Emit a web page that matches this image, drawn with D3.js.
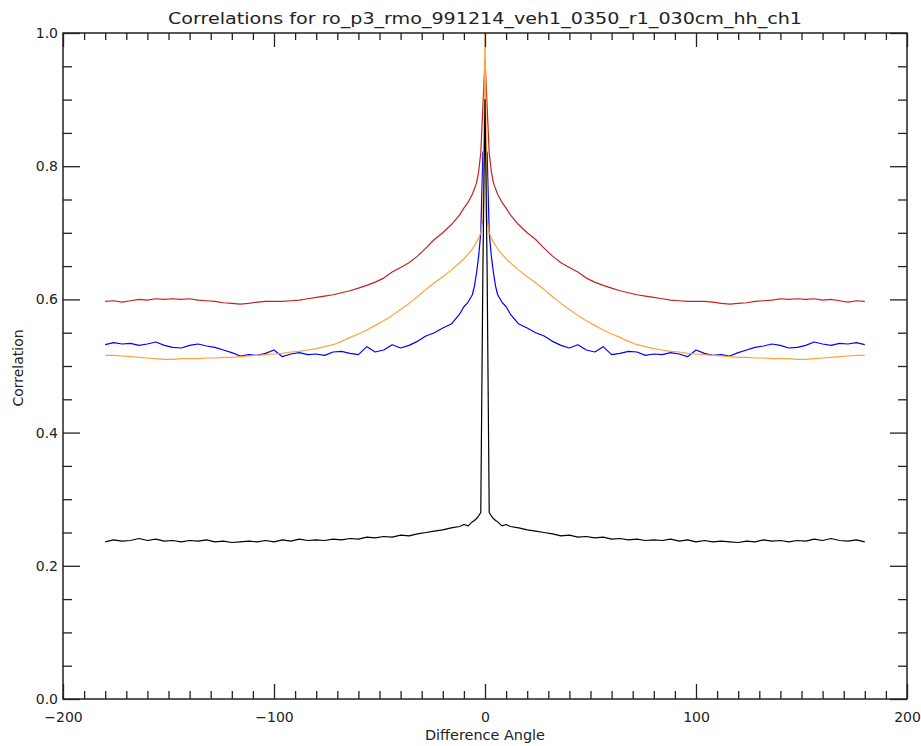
<!DOCTYPE html>
<html>
<head>
    <meta charset="UTF-8">
    <title>Correlations</title>
    <script src="https://cdn.jsdelivr.net/npm/d3@7"></script>
    <style type="text/css">
        body { margin: 0; background: #fff; }
        svg { display: block; }
        .frame { fill: none; stroke: #222; stroke-width: 1.5px; }
        .axis path { display: none; }
        .axis line { stroke: #222; stroke-width: 1.3px; }
        .axis text { font-family: "DejaVu Sans", sans-serif; font-size: 14px; fill: #222; }
        .label { font-family: "DejaVu Sans", sans-serif; fill: #222; }
        .line { fill: none; stroke-width: 1.2px; stroke-linejoin: round; }
    </style>
</head>
<body>
<script type="text/javascript">
    var width = 921,
        height = 746;

    // difference angles (degrees)
    var angles = [
        -180,-176,-172,-168,-164,-160,-156,-152,-148,-144,-140,-136,-132,-128,-124,-120,-116,-112,-108,-104,-100,
        -96,-92,-88,-84,-80,-76,-72,-68,-64,-60,-56,-52,-48,-44,-40,-36,-32,-28,-24,-20,-16,-12,
        -10,-8,-6,-5,-4,-3,-2,-1,0,1,2,3,4,5,6,8,10,
        12,16,20,24,28,32,36,40,44,48,52,56,60,64,68,72,76,80,84,88,92,96,
        100,104,108,112,116,120,124,128,132,136,140,144,148,152,156,160,164,168,172,176,180
    ];

    var redVals = [
        0.597,0.598,0.596,0.598,0.600,0.599,0.601,0.600,0.601,0.600,0.601,0.599,0.598,0.597,0.595,0.594,0.593,0.594,0.596,0.597,0.597,
        0.597,0.598,0.599,0.601,0.603,0.605,0.607,0.610,0.613,0.617,0.621,0.626,0.632,0.641,0.648,0.655,0.665,0.677,0.690,0.700,0.712,0.727,
        0.737,0.746,0.758,0.766,0.775,0.792,0.82,0.89,0.96,0.89,0.82,0.792,0.775,0.766,0.758,0.746,0.737,
        0.727,0.712,0.700,0.690,0.677,0.665,0.655,0.648,0.641,0.632,0.626,0.621,0.617,0.613,0.610,0.607,0.605,0.603,0.601,0.599,0.598,0.597,
        0.597,0.597,0.596,0.594,0.593,0.594,0.595,0.597,0.598,0.599,0.601,0.600,0.601,0.600,0.601,0.599,0.600,0.598,0.596,0.598,0.597
    ];

    var orangeVals = [
        0.516,0.516,0.515,0.514,0.513,0.512,0.511,0.510,0.510,0.511,0.511,0.511,0.512,0.512,0.513,0.513,0.514,0.515,0.516,0.517,0.518,
        0.519,0.521,0.522,0.524,0.526,0.529,0.532,0.537,0.543,0.548,0.554,0.561,0.568,0.576,0.585,0.594,0.604,0.615,0.625,0.634,0.644,0.655,
        0.661,0.668,0.676,0.681,0.686,0.692,0.70,0.72,1.0,0.72,0.70,0.692,0.686,0.681,0.676,0.668,0.661,
        0.655,0.644,0.634,0.625,0.615,0.604,0.594,0.585,0.576,0.568,0.561,0.554,0.548,0.543,0.537,0.532,0.529,0.526,0.524,0.522,0.521,0.519,
        0.518,0.517,0.516,0.515,0.514,0.513,0.513,0.512,0.512,0.511,0.511,0.511,0.510,0.510,0.511,0.512,0.513,0.514,0.515,0.516,0.516
    ];

    var blueVals = [
        0.532,0.535,0.533,0.534,0.531,0.533,0.536,0.531,0.528,0.527,0.531,0.533,0.530,0.528,0.524,0.520,0.515,0.517,0.516,0.519,0.524,
        0.514,0.518,0.520,0.517,0.518,0.516,0.521,0.522,0.519,0.517,0.529,0.521,0.524,0.532,0.527,0.531,0.537,0.545,0.550,0.557,0.563,0.578,
        0.589,0.596,0.607,0.620,0.640,0.665,0.70,0.82,0.83,0.82,0.70,0.665,0.640,0.620,0.607,0.596,0.589,
        0.578,0.563,0.557,0.550,0.545,0.537,0.531,0.527,0.532,0.524,0.521,0.529,0.517,0.519,0.522,0.521,0.516,0.518,0.517,0.520,0.518,0.514,
        0.524,0.519,0.516,0.517,0.515,0.520,0.524,0.528,0.530,0.533,0.531,0.527,0.528,0.531,0.536,0.533,0.531,0.534,0.533,0.535,0.532
    ];

    var blackVals = [
        0.236,0.239,0.237,0.238,0.241,0.238,0.240,0.237,0.238,0.236,0.238,0.237,0.239,0.236,0.237,0.235,0.236,0.237,0.236,0.238,0.236,
        0.239,0.237,0.240,0.238,0.239,0.238,0.240,0.239,0.241,0.240,0.243,0.242,0.244,0.243,0.246,0.245,0.248,0.250,0.252,0.254,0.257,0.259,
        0.262,0.260,0.266,0.268,0.271,0.275,0.28,0.645,0.90,0.645,0.28,0.275,0.271,0.268,0.266,0.260,0.262,
        0.259,0.257,0.254,0.252,0.250,0.248,0.245,0.246,0.243,0.244,0.242,0.243,0.240,0.241,0.239,0.240,0.238,0.239,0.238,0.240,0.237,0.239,
        0.236,0.238,0.236,0.237,0.236,0.235,0.237,0.236,0.239,0.237,0.238,0.236,0.238,0.237,0.240,0.238,0.241,0.238,0.237,0.239,0.236
    ];

    var seriesColors = ["#c8201e", "#0000ff", "#ffa23c", "#000000"];

    var xMajor = [-200, -100, 0, 100, 200],
        yMajor = [0, 0.2, 0.4, 0.6, 0.8, 1.0];

    var title = "Correlations for ro_p3_rmo_991214_veh1_0350_r1_030cm_hh_ch1",
        xTitle = "Difference Angle",
        yTitle = "Correlation";

    var plotLeft = 63, plotRight = 907, plotTop = 33, plotBottom = 699;

    var x = d3.scaleLinear().domain([-200, 200]).range([plotLeft, plotRight]),
        y = d3.scaleLinear().domain([0, 1]).range([plotBottom, plotTop]);

    var svg = d3.select("body").append("svg")
        .attr("width", width)
        .attr("height", height);

    svg.append("rect")
        .attr("width", width)
        .attr("height", height)
        .attr("fill", "#fff");

    renderLines();
    renderAxes();
    renderLabels();

    function renderLines(){
        var all = [redVals, blueVals, orangeVals, blackVals];
        var line = d3.line()
            .x(function(d){ return x(d[0]); })
            .y(function(d){ return y(d[1]); });

        svg.append("g").selectAll("path.line")
            .data(all)
          .enter().append("path")
            .attr("class", "line")
            .attr("stroke", function(d, i){ return seriesColors[i]; })
            .attr("d", function(vals){
                return line(angles.map(function(a, i){ return [a, vals[i]]; }));
            });
    }

    function renderAxes(){
        var xMinor = d3.range(-200, 201, 10).filter(function(v){ return v % 100 !== 0; }),
            yMinor = d3.range(0, 1.001, 0.05).filter(function(v){ return Math.round(v * 100) % 20 !== 0; });

        // bottom
        svg.append("g").attr("class", "axis")
            .attr("transform", "translate(0," + plotBottom + ")")
            .call(d3.axisBottom(x).tickValues(xMinor).tickSize(-8).tickFormat(""));
        svg.append("g").attr("class", "axis")
            .attr("transform", "translate(0," + plotBottom + ")")
            .call(d3.axisBottom(x).tickValues(xMajor).tickSize(-15).tickPadding(13)
                .tickFormat(function(d){ return d < 0 ? "\u2212" + Math.abs(d) : d; }));

        // top
        svg.append("g").attr("class", "axis")
            .attr("transform", "translate(0," + plotTop + ")")
            .call(d3.axisTop(x).tickValues(xMinor).tickSize(-7).tickFormat(""));
        svg.append("g").attr("class", "axis")
            .attr("transform", "translate(0," + plotTop + ")")
            .call(d3.axisTop(x).tickValues(xMajor).tickSize(-14).tickFormat(""));

        // left
        svg.append("g").attr("class", "axis")
            .attr("transform", "translate(" + plotLeft + ",0)")
            .call(d3.axisLeft(y).tickValues(yMinor).tickSize(-9).tickFormat(""));
        svg.append("g").attr("class", "axis")
            .attr("transform", "translate(" + plotLeft + ",0)")
            .call(d3.axisLeft(y).tickValues(yMajor).tickSize(-17).tickPadding(5).tickFormat(d3.format(".1f")));

        // right
        svg.append("g").attr("class", "axis")
            .attr("transform", "translate(" + plotRight + ",0)")
            .call(d3.axisRight(y).tickValues(yMinor).tickSize(-9).tickFormat(""));
        svg.append("g").attr("class", "axis")
            .attr("transform", "translate(" + plotRight + ",0)")
            .call(d3.axisRight(y).tickValues(yMajor).tickSize(-17).tickFormat(""));

        svg.append("rect")
            .attr("class", "frame")
            .attr("x", plotLeft)
            .attr("y", plotTop)
            .attr("width", plotRight - plotLeft)
            .attr("height", plotBottom - plotTop);
    }

    function renderLabels(){
        svg.append("text")
            .attr("class", "label")
            .attr("x", (plotLeft + plotRight) / 2)
            .attr("y", 24)
            .attr("text-anchor", "middle")
            .attr("textLength", 634)
            .attr("lengthAdjust", "spacingAndGlyphs")
            .style("font-size", "16px")
            .text(title);

        svg.append("text")
            .attr("class", "label")
            .attr("x", (plotLeft + plotRight) / 2)
            .attr("y", 740)
            .attr("text-anchor", "middle")
            .attr("textLength", 120)
            .attr("lengthAdjust", "spacingAndGlyphs")
            .style("font-size", "14px")
            .text(xTitle);

        svg.append("text")
            .attr("class", "label")
            .attr("transform", "translate(23," + 368 + ") rotate(-90)")
            .attr("text-anchor", "middle")
            .style("font-size", "14px")
            .text(yTitle);
    }
</script>
</body>
</html>
